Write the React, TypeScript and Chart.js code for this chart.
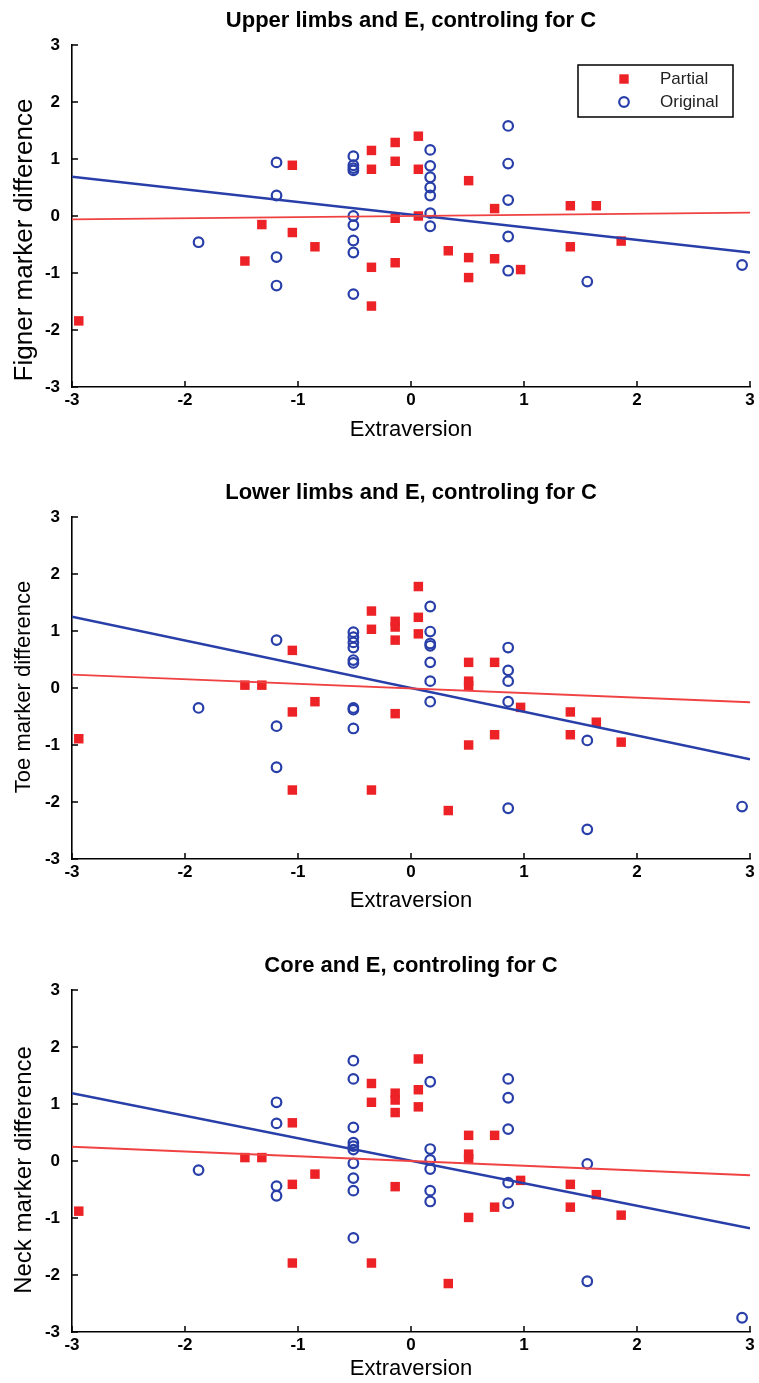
import React, { useEffect, useRef } from 'react';
import { Chart, registerables } from 'chart.js';

Chart.register(...registerables);

// ---------------- data ----------------
const xTicks = [-3, -2, -1, 0, 1, 2, 3];
const fitX = [-3, 3];
const legendLabels = ['Partial', 'Original'];
const xAxisTitle = 'Extraversion';

// Panel 1: Upper limbs
const upperTitle = 'Upper limbs and E, controling for C';
const upperYLabel = 'Figner marker difference';
const upperPartialX = [-2.94, -1.47, -1.32, -1.05, -1.05, -0.85, -0.35, -0.35, -0.35, -0.35, -0.14, -0.14, -0.14, -0.14, 0.065, 0.065, 0.065, 0.33, 0.51, 0.51, 0.51, 0.74, 0.74, 0.97, 1.41, 1.41, 1.64, 1.86];
const upperPartialY = [-1.84, -0.79, -0.15, 0.89, -0.29, -0.54, 1.15, 0.82, -0.9, -1.58, 1.29, 0.96, -0.04, -0.82, 1.4, 0.82, 0.0, -0.61, 0.62, -0.73, -1.08, 0.13, -0.75, -0.94, 0.18, -0.54, 0.18, -0.44];
const upperOriginalX = [-1.88, -1.19, -1.19, -1.19, -1.19, -0.51, -0.51, -0.51, -0.51, -0.51, -0.51, -0.51, -0.51, -0.51, 0.17, 0.17, 0.17, 0.17, 0.17, 0.17, 0.17, 0.86, 0.86, 0.86, 0.86, 0.86, 1.56, 2.93];
const upperOriginalY = [-0.46, 0.94, 0.36, -0.72, -1.22, 1.05, 0.89, 0.84, 0.8, 0.0, -0.16, -0.43, -0.64, -1.37, 1.16, 0.88, 0.68, 0.5, 0.36, 0.05, -0.18, 1.58, 0.92, 0.28, -0.36, -0.96, -1.15, -0.86];
const upperPartialFit = [-0.06, 0.06];
const upperOriginalFit = [0.69, -0.64];

// Panel 2: Lower limbs
const lowerTitle = 'Lower limbs and E, controling for C';
const lowerYLabel = 'Toe marker difference';
const lowerPartialX = [-2.94, -1.47, -1.32, -1.05, -1.05, -1.05, -0.85, -0.35, -0.35, -0.35, -0.14, -0.14, -0.14, -0.14, 0.065, 0.065, 0.065, 0.33, 0.51, 0.51, 0.51, 0.51, 0.74, 0.74, 0.97, 1.41, 1.41, 1.64, 1.86];
const lowerPartialY = [-0.89, 0.05, 0.05, 0.66, -0.42, -1.79, -0.24, 1.35, 1.03, -1.79, 1.17, 1.07, 0.84, -0.45, 1.78, 1.24, 0.95, -2.15, 0.45, 0.12, 0.04, -1.0, 0.45, -0.82, -0.34, -0.42, -0.82, -0.6, -0.95];
const lowerOriginalX = [-1.88, -1.19, -1.19, -1.19, -0.51, -0.51, -0.51, -0.51, -0.51, -0.51, -0.51, -0.51, -0.51, 0.17, 0.17, 0.17, 0.17, 0.17, 0.17, 0.17, 0.86, 0.86, 0.86, 0.86, 0.86, 1.56, 1.56, 2.93];
const lowerOriginalY = [-0.35, 0.84, -0.67, -1.39, 0.98, 0.89, 0.8, 0.71, 0.49, 0.44, -0.35, -0.38, -0.71, 1.43, 0.99, 0.78, 0.74, 0.45, 0.12, -0.24, 0.71, 0.31, 0.12, -0.24, -2.11, -0.92, -2.48, -2.08];
const lowerPartialFit = [0.235, -0.25];
const lowerOriginalFit = [1.25, -1.25];

// Panel 3: Core
const coreTitle = 'Core and E, controling for C';
const coreYLabel = 'Neck marker difference';
const corePartialX = [-2.94, -1.47, -1.32, -1.05, -1.05, -1.05, -0.85, -0.35, -0.35, -0.35, -0.14, -0.14, -0.14, -0.14, 0.065, 0.065, 0.065, 0.33, 0.51, 0.51, 0.51, 0.51, 0.74, 0.74, 0.97, 1.41, 1.41, 1.64, 1.86];
const corePartialY = [-0.88, 0.06, 0.06, 0.67, -0.41, -1.79, -0.23, 1.36, 1.03, -1.79, 1.19, 1.07, 0.85, -0.45, 1.79, 1.25, 0.95, -2.15, 0.45, 0.12, 0.04, -0.99, 0.45, -0.81, -0.34, -0.41, -0.81, -0.59, -0.95];
const coreOriginalX = [-1.88, -1.19, -1.19, -1.19, -1.19, -0.51, -0.51, -0.51, -0.51, -0.51, -0.51, -0.51, -0.51, -0.51, -0.51, 0.17, 0.17, 0.17, 0.17, 0.17, 0.17, 0.86, 0.86, 0.86, 0.86, 0.86, 1.56, 1.56, 2.93];
const coreOriginalY = [-0.16, 1.03, 0.66, -0.44, -0.61, 1.76, 1.44, 0.59, 0.32, 0.26, 0.2, -0.04, -0.3, -0.52, -1.35, 1.39, 0.21, 0.02, -0.14, -0.52, -0.71, 1.44, 1.11, 0.56, -0.38, -0.74, -0.05, -2.11, -2.75];
const corePartialFit = [0.25, -0.25];
const coreOriginalFit = [1.19, -1.18];

// ---------------- styling ----------------
const FONT = "'Liberation Sans', Arial, Helvetica, sans-serif";
const RED = 'rgb(236,34,38)';
const RED_LINE = 'rgb(240,66,66)';
const BLUE = 'rgb(40,62,168)';
const W = 759;

type PanelCfg = {
  title: string;
  yLabel: string;
  yLabelSize: number;
  yLabelCx: number;
  yLabelCy: number;
  px: number[]; py: number[];
  ox: number[]; oy: number[];
  pFit: number[]; oFit: number[];
  top: number; height: number;
  xTitlePadBottom: number;
  legend: boolean;
};

const PLOT_BOTTOM = 387;

const pts = (xs: number[], ys: number[]) => xs.map((x, i) => ({ x, y: ys[i] }));

const axisTicksPlugin = {
  id: 'inwardTicks',
  afterDraw(chart: any) {
    const { ctx, chartArea, scales } = chart;
    ctx.save();
    ctx.strokeStyle = '#000';
    ctx.lineWidth = 1.5;
    ctx.beginPath();
    xTicks.forEach((v) => {
      const px = scales.x.getPixelForValue(v);
      ctx.moveTo(px, chartArea.bottom);
      ctx.lineTo(px, chartArea.bottom - 6);
    });
    xTicks.forEach((v) => {
      const py = scales.y.getPixelForValue(v);
      ctx.moveTo(chartArea.left, py);
      ctx.lineTo(chartArea.left + 6, py);
    });
    ctx.stroke();
    ctx.restore();
  },
};

const yTitlePlugin = {
  id: 'yTitle',
  afterDraw(chart: any, _args: any, opts: any) {
    const { ctx } = chart;
    ctx.save();
    ctx.translate(opts.cx, opts.cy);
    ctx.rotate(-Math.PI / 2);
    ctx.font = `${opts.size}px ${FONT}`;
    ctx.fillStyle = '#000';
    ctx.textAlign = 'center';
    ctx.textBaseline = 'middle';
    ctx.fillText(opts.text, 0, 0);
    ctx.restore();
  },
};

const boxLegendPlugin = {
  id: 'boxLegend',
  afterDraw(chart: any, _args: any, opts: any) {
    if (!opts.show) return;
    const { ctx } = chart;
    ctx.save();
    ctx.strokeStyle = '#000';
    ctx.lineWidth = 1.5;
    ctx.fillStyle = '#fff';
    ctx.fillRect(578, 65, 155, 52);
    ctx.strokeRect(578, 65, 155, 52);
    ctx.fillStyle = RED;
    ctx.fillRect(624 - 4.7, 79 - 4.7, 9.4, 9.4);
    ctx.strokeStyle = BLUE;
    ctx.lineWidth = 2.2;
    ctx.beginPath();
    ctx.arc(624, 102, 4.8, 0, Math.PI * 2);
    ctx.stroke();
    ctx.fillStyle = '#222';
    ctx.font = `17px ${FONT}`;
    ctx.textAlign = 'left';
    ctx.textBaseline = 'middle';
    ctx.fillText(legendLabels[0], 660, 79);
    ctx.fillText(legendLabels[1], 660, 102);
    ctx.restore();
  },
};

function buildConfig(c: PanelCfg): any {
  const tickFont = { family: FONT, size: 17, weight: 'bold' as const };
  return {
    type: 'scatter',
    data: {
      datasets: [
        {
          label: 'Partial fit',
          data: pts(fitX, c.pFit),
          showLine: true,
          borderColor: RED_LINE,
          borderWidth: 1.8,
          pointRadius: 0,
          fill: false,
        },
        {
          label: 'Original fit',
          data: pts(fitX, c.oFit),
          showLine: true,
          borderColor: BLUE,
          borderWidth: 2.5,
          pointRadius: 0,
          fill: false,
        },
        {
          label: legendLabels[1],
          data: pts(c.ox, c.oy),
          pointStyle: 'circle',
          pointRadius: 4.8,
          borderColor: BLUE,
          borderWidth: 2.2,
          backgroundColor: 'rgba(0,0,0,0)',
        },
        {
          label: legendLabels[0],
          data: pts(c.px, c.py),
          pointStyle: 'rect',
          pointRadius: 6.7,
          borderWidth: 0,
          borderColor: RED,
          backgroundColor: RED,
        },
      ],
    },
    options: {
      responsive: false,
      animation: false,
      events: [],
      layout: { padding: { left: 0, right: 9, top: 0, bottom: 0 } },
      plugins: {
        legend: { display: false },
        tooltip: { enabled: false },
        title: {
          display: true,
          fullSize: false,
          text: c.title,
          color: '#000',
          font: { family: FONT, size: 22, weight: 'bold', lineHeight: 1.2 },
          padding: { top: 7.5, bottom: 11.1 },
        },
        yTitle: { text: c.yLabel, size: c.yLabelSize, cx: c.yLabelCx, cy: c.yLabelCy },
        boxLegend: { show: c.legend },
      },
      scales: {
        x: {
          type: 'linear',
          position: 'bottom',
          min: -3,
          max: 3,
          afterBuildTicks: (s: any) => { s.ticks = xTicks.map((v) => ({ value: v })); },
          ticks: { color: '#000', font: tickFont, padding: 3, maxRotation: 0, autoSkip: false },
          grid: { display: false, drawTicks: false },
          border: { display: true, color: '#000', width: 1.6 },
          title: {
            display: true,
            text: xAxisTitle,
            color: '#000',
            font: { family: FONT, size: 22, lineHeight: 1.2 },
            padding: { top: 0, bottom: c.xTitlePadBottom },
          },
          afterFit: (s: any) => { s.height = c.height - PLOT_BOTTOM; },
        },
        y: {
          type: 'linear',
          min: -3,
          max: 3,
          afterBuildTicks: (s: any) => { s.ticks = xTicks.map((v) => ({ value: v })); },
          ticks: { color: '#000', font: tickFont, padding: 12, autoSkip: false },
          grid: { display: false, drawTicks: false },
          border: { display: true, color: '#000', width: 1.6 },
          afterFit: (s: any) => { s.width = 72; },
        },
      },
    },
    plugins: [axisTicksPlugin, yTitlePlugin, boxLegendPlugin],
  };
}

const panels: PanelCfg[] = [
  {
    title: upperTitle, yLabel: upperYLabel, yLabelSize: 26, yLabelCx: 25, yLabelCy: 240,
    px: upperPartialX, py: upperPartialY, ox: upperOriginalX, oy: upperOriginalY,
    pFit: upperPartialFit, oFit: upperOriginalFit,
    top: 0, height: 472, xTitlePadBottom: 28.8, legend: true,
  },
  {
    title: lowerTitle, yLabel: lowerYLabel, yLabelSize: 22, yLabelCx: 24, yLabelCy: 215,
    px: lowerPartialX, py: lowerPartialY, ox: lowerOriginalX, oy: lowerOriginalY,
    pFit: lowerPartialFit, oFit: lowerOriginalFit,
    top: 472, height: 473, xTitlePadBottom: 30.8, legend: false,
  },
  {
    title: coreTitle, yLabel: coreYLabel, yLabelSize: 24, yLabelCx: 24, yLabelCy: 225,
    px: corePartialX, py: corePartialY, ox: coreOriginalX, oy: coreOriginalY,
    pFit: corePartialFit, oFit: coreOriginalFit,
    top: 945, height: 438, xTitlePadBottom: 1, legend: false,
  },
];

function Panel({ cfg }: { cfg: PanelCfg }) {
  const ref = useRef<HTMLCanvasElement>(null);
  useEffect(() => {
    if (!ref.current) return;
    const chart = new Chart(ref.current, buildConfig(cfg));
    return () => chart.destroy();
  }, [cfg]);
  return (
    <canvas
      ref={ref}
      width={W}
      height={cfg.height}
      style={{ position: 'absolute', left: 0, top: cfg.top, width: W, height: cfg.height, display: 'block' }}
    />
  );
}

export default function App() {
  return (
    <div style={{ position: 'absolute', left: 0, top: 0, width: W, height: 1383, background: '#fff', overflow: 'hidden' }}>
      {panels.map((p, i) => (
        <Panel key={i} cfg={p} />
      ))}
    </div>
  );
}
